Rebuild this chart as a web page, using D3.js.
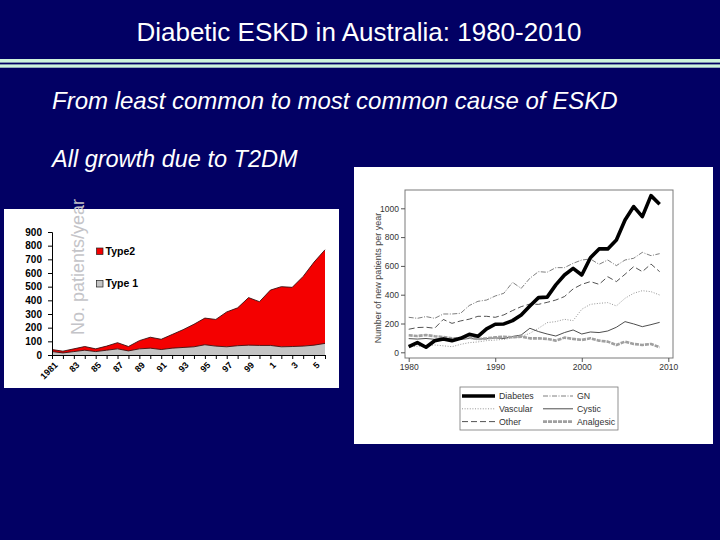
<!DOCTYPE html>
<html>
<head>
<meta charset="utf-8">
<script src="https://cdn.jsdelivr.net/npm/d3@7"></script>
<style>
html,body{margin:0;padding:0;background:#020064;}
svg{display:block;}
</style>
</head>
<body>
<svg id="c" width="720" height="540"></svg>
<script>
// ---------- Slide text ----------
const slideTitle = "Diabetic ESKD in Australia: 1980-2010";
const bullet1 = "From least common to most common cause of ESKD";
const bullet2 = "All growth due to T2DM";

// ---------- Left chart (Type 1 / Type 2 stacked area) ----------
const yearsL = [1981,1982,1983,1984,1985,1986,1987,1988,1989,1990,1991,1992,1993,1994,1995,1996,1997,1998,1999,2000,2001,2002,2003,2004,2005,2006];
const type1 = [25,15,25,35,25,35,45,30,45,50,40,50,55,60,75,65,60,68,72,70,70,60,62,65,72,85];
const type2 = [15,13,20,27,20,30,45,32,60,80,75,100,130,165,195,195,255,277,348,320,405,440,433,510,608,685];
const yTicksL = [0,100,200,300,400,500,600,700,800,900];
const xLabelsL = {1981:"1981",1983:"83",1985:"85",1987:"87",1989:"89",1991:"91",1993:"93",1995:"95",1997:"97",1999:"99",2001:"1",2003:"3",2005:"5"};
const seriesL = ["Type2","Type 1"];
const yLabelL = "No. patients/year";

// ---------- Right chart (causes of ESKD, lines) ----------
const yearsR = [1980,1981,1982,1983,1984,1985,1986,1987,1988,1989,1990,1991,1992,1993,1994,1995,1996,1997,1998,1999,2000,2001,2002,2003,2004,2005,2006,2007,2008,2009];
const diabetes  = [39,67,35,80,93,81,97,125,111,163,195,197,220,259,322,380,383,468,537,583,537,657,718,718,780,919,1012,942,1088,1028];
const gn        = [243,236,248,236,266,266,271,325,354,363,391,410,486,444,514,560,556,588,588,618,641,648,611,641,602,641,653,694,671,685];
const other     = [160,172,174,167,228,201,218,230,250,250,243,260,290,317,335,333,347,363,387,440,472,491,472,525,491,542,595,560,613,560];
const vascular  = [39,42,45,51,45,39,55,67,72,81,85,90,100,109,132,167,206,213,229,220,299,333,340,345,322,375,410,428,421,398];
const cystic    = [95,92,96,90,95,88,90,96,92,95,100,96,110,120,167,144,127,113,137,155,127,141,137,148,174,213,197,178,192,208];
const analgesic = [118,113,120,112,106,98,97,103,92,97,104,108,104,109,97,97,93,81,102,93,86,97,81,74,51,74,58,51,58,35];
const yTicksR = [0,200,400,600,800,1000];
const xTicksR = [1980,1990,2000,2010];
const yLabelR = "Number of new patients per year";

const svg = d3.select("#c");
const FONT = "Liberation Sans, Arial, sans-serif";

// background
svg.append("rect").attr("width",720).attr("height",540).attr("fill","#020064");

// title
svg.append("text").attr("x",359).attr("y",41).attr("text-anchor","middle")
  .attr("font-family",FONT).attr("font-size",26)
  .attr("fill","#ffffff").text(slideTitle);
// double rule
svg.append("rect").attr("x",0).attr("y",59).attr("width",720).attr("height",3.6).attr("fill","#cdf3dd");
svg.append("rect").attr("x",0).attr("y",64.4).attr("width",720).attr("height",3.3).attr("fill","#cdf3dd");

// bullets
svg.append("text").attr("x",52).attr("y",109).attr("font-family",FONT)
  .attr("font-style","italic").attr("font-size",24).attr("fill","#ffffff").text(bullet1);
svg.append("text").attr("x",52).attr("y",167).attr("font-family",FONT)
  .attr("font-style","italic").attr("font-size",23.5).attr("fill","#ffffff").text(bullet2);

// ================= LEFT CHART =================
const gL = svg.append("g");
gL.append("rect").attr("x",4).attr("y",209).attr("width",335).attr("height",179).attr("fill","#ffffff");

const xL = d3.scalePoint().domain(yearsL).range([52,325]);
const yL = d3.scaleLinear().domain([0,900]).range([355,232]);

const tableL = yearsL.map((y,i)=>({year:y, t1:type1[i], t2:type2[i]}));
const stack = d3.stack().keys(["t1","t2"])(tableL);
const area = d3.area().x(d=>xL(d.data.year)).y0(d=>yL(d[0])).y1(d=>yL(d[1]));
const lineTop = d3.line().x(d=>xL(d.data.year)).y(d=>yL(d[1]));
const fillsL = ["#c4c4c4","#f40000"];
stack.forEach((s,i)=>{
  gL.append("path").datum(s).attr("d",area).attr("fill",fillsL[i]);
});
stack.forEach((s,i)=>{
  gL.append("path").datum(s).attr("d",lineTop).attr("fill","none").attr("stroke","#3a1010").attr("stroke-width",0.9);
});

// y axis
const axL = gL.append("g").attr("transform","translate(52,0)")
  .call(d3.axisLeft(yL).tickValues(yTicksL).tickSize(4).tickPadding(6));
axL.selectAll("text").attr("font-family",FONT).attr("font-weight","bold")
  .attr("font-size",10).attr("fill","#000");
axL.selectAll("line,path").attr("stroke","#000");

// x axis
const axXL = gL.append("g").attr("transform","translate(0,355)")
  .call(d3.axisBottom(xL).tickSize(4).tickSizeOuter(0).tickFormat(d=>xLabelsL[d]||""));
axXL.selectAll("line,path").attr("stroke","#000");
axXL.selectAll("text").attr("font-family",FONT).attr("font-weight","bold")
  .attr("font-size",9).attr("fill","#000").attr("text-anchor","end")
  .attr("transform","translate(-1,4) rotate(-45)").attr("dy","0.5em").attr("y",5);

// legend
const legL = [{name:seriesL[0],color:"#f40000",y:254.5},{name:seriesL[1],color:"#c4c4c4",y:287}];
legL.forEach(l=>{
  gL.append("rect").attr("x",96.5).attr("y",l.y-6.5).attr("width",6.5).attr("height",6.5)
    .attr("fill",l.color).attr("stroke","#222").attr("stroke-width",0.7);
  gL.append("text").attr("x",105.5).attr("y",l.y).attr("font-family",FONT)
    .attr("font-weight","bold").attr("font-size",10.5).attr("fill","#000").text(l.name);
});

// y label
svg.append("text").attr("transform","translate(84,335) rotate(-90)")
  .attr("font-family",FONT).attr("font-size",18)
  .attr("fill","#c4c4c8").text(yLabelL);

// ================= RIGHT CHART =================
const gR = svg.append("g");
gR.append("rect").attr("x",354).attr("y",167).attr("width",359).attr("height",277).attr("fill","#ffffff");

const xR = d3.scaleLinear().domain([1980,2010]).range([408.7,668.3]);
const yR = d3.scaleLinear().domain([0,1000]).range([352.3,208.3]);

gR.append("rect").attr("x",405).attr("y",190).attr("width",268).attr("height",168)
  .attr("fill","none").attr("stroke","#7a7a7a").attr("stroke-width",1);

const styles = {
  Diabetes:  {data:diabetes,  color:"#000000", width:3.6, dash:null},
  GN:        {data:gn,        color:"#707070", width:0.9, dash:"5,1.5,1,1.5"},
  Other:     {data:other,     color:"#404040", width:0.9, dash:"6,3"},
  Vascular:  {data:vascular,  color:"#8a8a8a", width:0.9, dash:"1,1.6"},
  Cystic:    {data:cystic,    color:"#3a3a3a", width:0.9, dash:null},
  Analgesic: {data:analgesic, color:"#a0a0a0", width:2.6, dash:"4,1"}
};
const drawOrder = ["GN","Other","Vascular","Cystic","Analgesic","Diabetes"];
const lineR = d3.line().x((d,i)=>xR(yearsR[i])).y(d=>yR(d));
drawOrder.forEach(k=>{
  const s = styles[k];
  gR.append("path").datum(s.data).attr("d",lineR).attr("fill","none")
    .attr("stroke",s.color).attr("stroke-width",s.width)
    .attr("stroke-dasharray",s.dash).attr("stroke-linejoin","round");
});

const axYR = gR.append("g").attr("transform","translate(405,0)")
  .call(d3.axisLeft(yR).tickValues(yTicksR).tickSize(4).tickPadding(2).tickFormat(d3.format("d")));
axYR.select(".domain").remove();
axYR.selectAll("line").attr("stroke","#555");
axYR.selectAll("text").attr("font-family",FONT).attr("font-size",8.5).attr("fill","#333");

const axXR = gR.append("g").attr("transform","translate(0,358)")
  .call(d3.axisBottom(xR).tickValues(xTicksR).tickSize(4).tickPadding(2).tickFormat(d3.format("d")));
axXR.select(".domain").remove();
axXR.selectAll("line").attr("stroke","#555");
axXR.selectAll("text").attr("font-family",FONT).attr("font-size",8.5).attr("fill","#333");

gR.append("text").attr("transform","translate(381,278) rotate(-90)").attr("text-anchor","middle")
  .attr("font-family",FONT).attr("font-size",9).attr("fill","#444").text(yLabelR);

// legend
gR.append("rect").attr("x",460).attr("y",387).attr("width",158).attr("height",43)
  .attr("fill","#fff").attr("stroke","#777").attr("stroke-width",0.8);
const legR = [["Diabetes",0,0],["Vascular",0,1],["Other",0,2],["GN",1,0],["Cystic",1,1],["Analgesic",1,2]];
legR.forEach(([k,c,r])=>{
  const s = styles[k];
  const x0 = c===0 ? 462 : 543, x1 = c===0 ? 495 : 573;
  const y = 396 + r*12.8;
  gR.append("line").attr("x1",x0).attr("x2",x1).attr("y1",y).attr("y2",y)
    .attr("stroke",s.color).attr("stroke-width",s.width).attr("stroke-dasharray",s.dash);
  gR.append("text").attr("x",x1+4).attr("y",y+3).attr("font-family",FONT)
    .attr("font-size",8.8).attr("fill","#333").text(k);
});
</script>
</body>
</html>
